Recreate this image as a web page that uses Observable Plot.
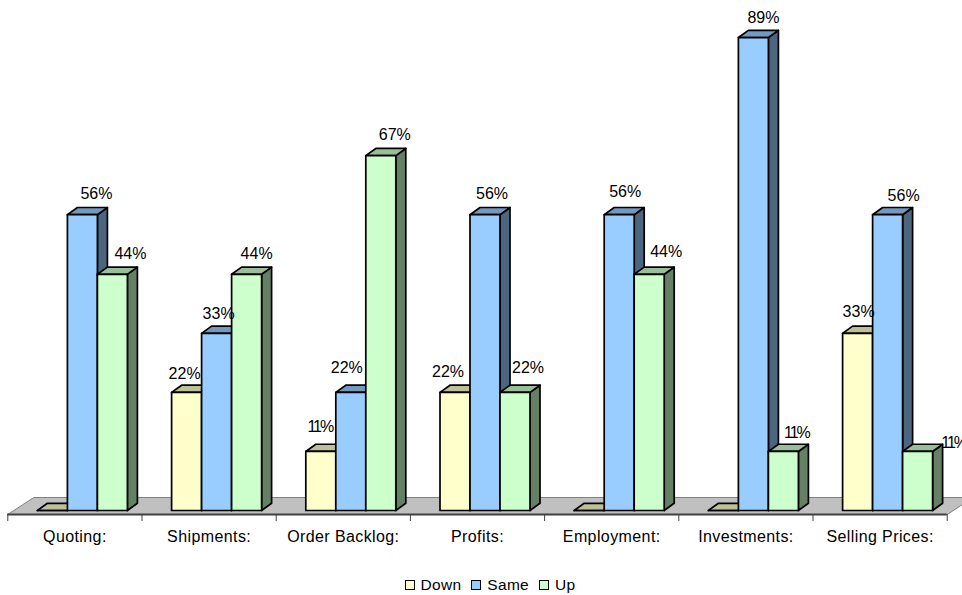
<!DOCTYPE html>
<html><head><meta charset="utf-8">
<script src="https://cdn.jsdelivr.net/npm/d3@7"></script>
<script src="https://cdn.jsdelivr.net/npm/@observablehq/plot@0.6"></script>
<style>
html,body{margin:0;padding:0;background:#fff;overflow:hidden}
svg{display:block}
.tight{letter-spacing:-2px}
.cat text{letter-spacing:.4px}
#legend{height:27px;position:relative;font:15.5px "Liberation Sans",Arial,sans-serif;color:#000;letter-spacing:.3px;display:flex;justify-content:center;align-items:flex-start;gap:10px;margin-left:18px;line-height:17px;padding-top:8px;box-sizing:border-box}
#legend span.i{display:flex;align-items:center;gap:6px}
#legend i{display:block;width:8px;height:8px;border:1px solid #000}
</style></head><body>
<div id="chart"></div><div id="legend"></div>
<script>
const categories = ["Quoting:","Shipments:","Order Backlog:","Profits:","Employment:","Investments:","Selling Prices:"];
const seriesNames = ["Down","Same","Up"];
const down = [0,22.2,11.1,22.2,0,0,33.3];
const same = [55.6,33.3,22.2,55.6,55.6,88.9,55.6];
const up   = [44.4,44.4,66.7,22.2,44.4,11.1,11.1];
const frontColors = ["#ffffcc","#99ccff","#ccffcc"];
const topColors   = ["#bfbf99","#7399bf","#99bf99"];
const sideColors  = ["#808066","#4d6680","#668066"];

// label nudges in pixels, per series and category
const labelDx = [[0,-2,-1,-7,0,0,1],[14,2,-4,7,6,10,16],[18,10,14,13,17,13,36]];
const labelDy = [[0,-19,-25,-21,0,0,-21],[-21,-19,-25,-21,-23,-20,-19],[-20,-20,-21,-25,-22,-19,-9]];

const W=962,H=568,baseY=510,x0=7.3,groupW=134.2,pxPerPct=5.32;
const ux=p=>p/groupW, uy=p=>p/pxPerPct;
const barStart=ux(29.6), barW=ux(30), depthX=ux(10), depthY=uy(7.2);
const values=[down,same,up];

const faces=[], labels=[];
categories.forEach((c,g)=>{
  seriesNames.forEach((s,k)=>{
    const v=values[k][g], a=g+barStart+k*barW, b=a+barW;
    const poly=(name,color,pts)=>pts.concat([pts[0]]).forEach(p=>faces.push({id:`${g}-${k}-${name}`,color,x:p[0],y:p[1]}));
    poly("side",sideColors[k],[[b,0],[b+depthX,depthY],[b+depthX,v+depthY],[b,v]]);
    poly("top",topColors[k],[[a,v],[a+depthX,v+depthY],[b+depthX,v+depthY],[b,v]]);
    poly("front",frontColors[k],[[a,0],[b,0],[b,v],[a,v]]);
    if(v>0) labels.push({x:(a+b)/2+ux(labelDx[k][g]),y:v-uy(labelDy[k][g]),t:Math.round(v)+"%"});
  });
});
const floorFront=-uy(4), floorBack=uy(13), floorDx=ux(26);
const floor=[[0,floorFront],[floorDx,floorBack],[7+floorDx,floorBack],[7,floorFront],[0,floorFront]].map(p=>({x:p[0],y:p[1]}));
const font='"Liberation Sans",Arial,sans-serif';
const chart=Plot.plot({
  width:W,height:H,marginLeft:0,marginRight:0,marginTop:0,marginBottom:H-514,
  style:{fontFamily:font,fontSize:"16px",background:"#fff",color:"#000"},
  x:{type:"linear",domain:[0,7],range:[x0,x0+7*groupW],axis:null},
  y:{type:"linear",domain:[0,baseY/pxPerPct],range:[baseY,0],axis:null},
  marks:[
    Plot.line(floor,{x:"x",y:"y",fill:"#c0c0c0",stroke:"#808080",strokeWidth:1}),
    Plot.ruleY([floorFront],{x1:0,x2:7,stroke:"#404040",strokeWidth:2}),
    Plot.axisX({anchor:"bottom",label:null,ticks:d3.range(0,8),tickSize:7,tickFormat:()=>"",stroke:"#404040",strokeWidth:1}),
    Plot.axisX({anchor:"bottom",label:null,ticks:d3.range(0,7).map(d=>d+.5),tickSize:0,tickPadding:16,
      tickFormat:d=>categories[Math.floor(d)],fontSize:16,fill:"#000",className:"cat",textAnchor:"middle"}),
    Plot.line(faces,{x:"x",y:"y",z:"id",fill:"color",stroke:"#000",strokeWidth:1.7,strokeLinejoin:"round"}),
    Plot.text(labels.filter(d=>d.t!=="11%"),{x:"x",y:"y",text:"t",fontSize:16,fill:"#000"}),
    Plot.text(labels.filter(d=>d.t==="11%"),{x:"x",y:"y",text:"t",fontSize:16,fill:"#000",className:"tight"})
  ]
});
document.getElementById("chart").append(chart);
const lg=d3.select("#legend");
seriesNames.forEach((s,k)=>{
  const sp=lg.append("span").attr("class","i");
  sp.append("i").style("background",frontColors[k]);
  sp.append("span").text(s);
});
</script></body></html>
